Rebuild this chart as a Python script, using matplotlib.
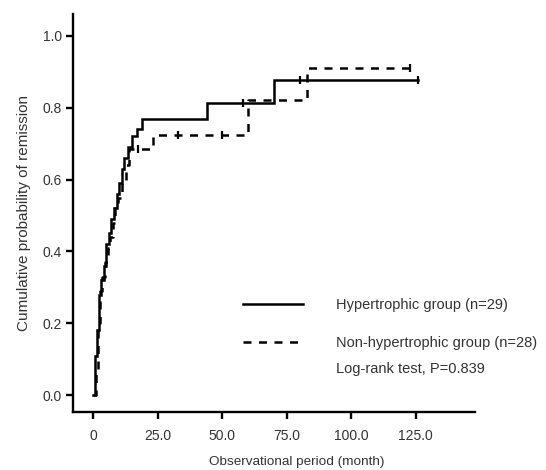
import matplotlib
matplotlib.use("Agg")
import matplotlib.pyplot as plt

plt.rcParams['font.family'] = ['Liberation Sans', 'DejaVu Sans']

# Hypertrophic group: step times (months) and cumulative probability
hyp_t = [0, 0.7, 1.5, 2.2, 3, 4, 5, 6, 7, 8, 9, 10, 11, 12, 13.5, 15, 17, 19, 44, 70, 126]
hyp_p = [0, 0.11, 0.18, 0.28, 0.32, 0.36, 0.42, 0.45, 0.49, 0.52, 0.56, 0.59, 0.63, 0.66, 0.69, 0.72, 0.74, 0.77, 0.812, 0.877, 0.877]
hyp_cens_t = [58, 80, 126]
hyp_cens_p = [0.812, 0.877, 0.877]

# Non-hypertrophic group
non_t = [0, 1, 1.8, 2.5, 3.5, 4.5, 5.5, 6.5, 7.5, 8.5, 9.5, 11, 12.5, 14, 23, 60, 82.8, 122.7]
non_p = [0, 0.07, 0.2, 0.29, 0.33, 0.37, 0.41, 0.44, 0.48, 0.52, 0.55, 0.60, 0.64, 0.684, 0.724, 0.822, 0.91, 0.91]
non_cens_t = [17.4, 32.8, 50, 122.7]
non_cens_p = [0.684, 0.724, 0.724, 0.91]

x_ticks = [0, 25, 50, 75, 100, 125]
x_labels = ["0", "25.0", "50.0", "75.0", "100.0", "125.0"]
y_ticks = [0.0, 0.2, 0.4, 0.6, 0.8, 1.0]
y_labels = ["0.0", "0.2", "0.4", "0.6", "0.8", "1.0"]

labels = ["Hypertrophic group (n=29)", "Non-hypertrophic group (n=28)"]
stat_text = "Log-rank test, P=0.839"

fig = plt.figure(figsize=(5.46, 4.70), dpi=100)
ax = fig.add_axes([73/546, 58/470, 402/546, 398/470])

lw = 1.8
l1, = ax.step(hyp_t, hyp_p, where='post', color='black', lw=lw, solid_joinstyle='miter')
l2, = ax.step(non_t, non_p, where='post', color='black', lw=lw, linestyle=(0, (3.2, 3.0)))
ax.plot(hyp_cens_t, hyp_cens_p, linestyle='none', marker='|', color='black', markersize=6, mew=1.6)
ax.plot(non_cens_t, non_cens_p, linestyle='none', marker='|', color='black', markersize=6, mew=1.6)

ax.set_xlim(-7.9, 148)
ax.set_ylim(-0.047, 1.061)
ax.set_xticks(x_ticks)
ax.set_xticklabels(x_labels)
ax.set_yticks(y_ticks)
ax.set_yticklabels(y_labels)

for s in ['top', 'right']:
    ax.spines[s].set_visible(False)
for s in ['left', 'bottom']:
    ax.spines[s].set_linewidth(1.7)
ax.tick_params(axis='both', length=5, width=1.7, labelsize=10, colors='black', labelcolor='#333333')
ax.tick_params(axis='x', pad=7)
ax.tick_params(axis='y', pad=3)

ax.set_xlabel("Observational period (month)", fontsize=9.7, color='#333333', va='center')
ax.xaxis.set_label_coords(0.557, -0.126)
ax.set_ylabel("Cumulative probability of remission", fontsize=11, color='#333333', labelpad=8)

leg = ax.legend([l1, l2], labels, loc='upper left', bbox_to_anchor=(0.423, 0.287),
                frameon=False, fontsize=10.5, handlelength=4.1, handletextpad=2.25,
                labelspacing=1.68, borderpad=0, borderaxespad=0)
for t in leg.get_texts():
    t.set_color('#333333')

ax.text(0.655, 0.1085, stat_text, transform=ax.transAxes, fontsize=10.5, color='#333333',
        va='center', ha='left')

fig.savefig("out.png", dpi=100)
